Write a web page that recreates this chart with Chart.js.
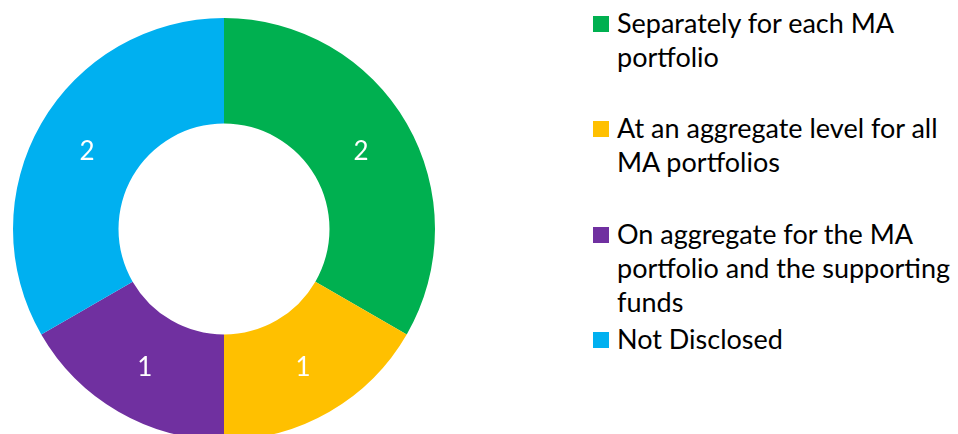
<!DOCTYPE html>
<html lang="en">
<head>
  <meta charset="UTF-8">
  <title>MA portfolio disclosure</title>
  <style>
    html, body {
      margin: 0;
      padding: 0;
      width: 958px;
      height: 434px;
      overflow: hidden;
      background: #ffffff;
      font-family: Lato, "Liberation Sans", sans-serif;
    }
    .chart-box {
      position: absolute;
      left: 13px;
      top: 18px;
      width: 422px;
      height: 422px;
    }
    #legend {
      position: absolute;
      left: 593px;
      top: 0;
    }
    .legend-item {
      position: absolute;
      left: 0;
      white-space: nowrap;
      font-size: 27px;
      line-height: 34px;
      color: #000;
    }
    .legend-item .swatch {
      position: absolute;
      left: 0;
      top: 10px;
      width: 16px;
      height: 16px;
    }
    .legend-item .text {
      margin-left: 24px;
    }
  </style>
</head>
<body>
  <div class="chart-box">
    <canvas id="disclosureChart" width="422" height="422"></canvas>
  </div>
  <div id="legend"></div>

  <script src="https://cdn.jsdelivr.net/npm/chart.js"></script>
  <script>
    // categories (legend text broken into its lines)
    const categories = [
      ['Separately for each MA', 'portfolio'],
      ['At an aggregate level for all', 'MA portfolios'],
      ['On aggregate for the MA', 'portfolio and the supporting', 'funds'],
      ['Not Disclosed']
    ];
    const counts = [2, 1, 1, 2];
    const colours = ['#00B050', '#FFC000', '#7030A0', '#00B0F0'];

    // white value labels in the middle of each ring segment
    const valueLabels = {
      id: 'valueLabels',
      afterDatasetsDraw(chart) {
        const ctx = chart.ctx;
        const meta = chart.getDatasetMeta(0);
        ctx.save();
        ctx.fillStyle = '#ffffff';
        ctx.font = '26px Lato, "Liberation Sans", sans-serif';
        ctx.textAlign = 'center';
        ctx.textBaseline = 'middle';
        meta.data.forEach(function(arc, i) {
          const p = arc.tooltipPosition();
          ctx.fillText(String(counts[i]), p.x, p.y + 2);
        });
        ctx.restore();
      }
    };

    const ctx = document.getElementById('disclosureChart').getContext('2d');
    const disclosureChart = new Chart(ctx, {
      type: 'doughnut',
      data: {
        labels: categories,
        datasets: [{
          data: counts,
          backgroundColor: colours,
          borderWidth: 0
        }]
      },
      options: {
        responsive: false,
        animation: false,
        cutout: '50%',
        layout: { padding: 0 },
        plugins: {
          legend: { display: false },
          tooltip: { enabled: false }
        }
      },
      plugins: [valueLabels]
    });

    // legend on the right, entries spaced like the original
    const legend = document.getElementById('legend');
    categories.forEach(function(lines, i) {
      const item = document.createElement('div');
      item.className = 'legend-item';
      item.style.top = (6 + i * 105.3) + 'px';
      const sw = document.createElement('span');
      sw.className = 'swatch';
      sw.style.background = colours[i];
      const txt = document.createElement('div');
      txt.className = 'text';
      txt.innerHTML = lines.join('<br>');
      item.appendChild(sw);
      item.appendChild(txt);
      legend.appendChild(item);
    });
  </script>
</body>
</html>
